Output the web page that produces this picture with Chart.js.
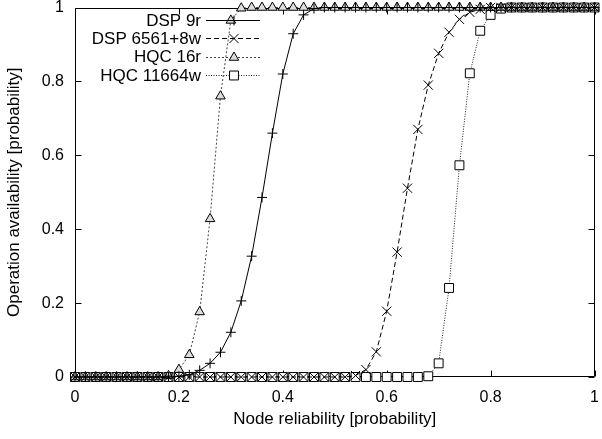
<!DOCTYPE html>
<html><head><meta charset="utf-8">
<script src="https://cdn.jsdelivr.net/npm/chart.js@4/dist/chart.umd.min.js"></script>
<style>html,body{margin:0;padding:0;background:#fff}canvas{display:block}</style>
</head><body>
<canvas id="c" width="602" height="439"></canvas>
<script>
// ---- data ----
const nodeReliability = [0,0.02,0.04,0.06,0.08,0.10,0.12,0.14,0.16,0.18,
  0.20,0.22,0.24,0.26,0.28,0.30,0.32,0.34,0.36,0.38,
  0.40,0.42,0.44,0.46,0.48,0.50,0.52,0.54,0.56,0.58,
  0.60,0.62,0.64,0.66,0.68,0.70,0.72,0.74,0.76,0.78,
  0.80,0.82,0.84,0.86,0.88,0.90,0.92,0.94,0.96,0.98,1.00];
const seriesNames = ['DSP 9r','DSP 6561+8w','HQC 16r','HQC 11664w'];
const dsp9r = [0,0,0,0,0,0,0,0,0,0,
  0.002,0.006,0.018,0.037,0.067,0.121,0.206,0.327,0.486,0.66,
  0.82,0.929,0.98,0.997,1,1,1,1,1,1,
  1,1,1,1,1,1,1,1,1,1,
  1,1,1,1,1,1,1,1,1,1,1];
const dsp6561w = [0,0,0,0,0,0,0,0,0,0,
  0,0,0,0,0,0,0,0,0,0,
  0,0,0,0,0,0,0,0.004,0.02,0.068,
  0.178,0.338,0.511,0.67,0.79,0.876,0.933,0.968,0.987,0.995,
  1,1,1,1,1,1,1,1,1,1,1];
const hqc16r = [0,0,0,0,0,0,0,0,0,0.003,
  0.02,0.06,0.176,0.428,0.76,0.965,0.998,1,1,1,
  1,1,1,1,1,1,1,1,1,1,
  1,1,1,1,1,1,1,1,1,1,
  1,1,1,1,1,1,1,1,1,1,1];
const hqc11664w = [0,0,0,0,0,0,0,0,0,0,
  0,0,0,0,0,0,0,0,0,0,
  0,0,0,0,0,0,0,0,0,0,
  0,0,0,0,0.002,0.037,0.241,0.573,0.822,0.937,
  0.98,0.997,1,1,1,1,1,1,1,1,1];
const xTickValues = [0,0.2,0.4,0.6,0.8,1];
const yTickValues = [0,0.2,0.4,0.6,0.8,1];
const xTitle = 'Node reliability [probability]';
const yTitle = 'Operation availability [probability]';

// ---- styles ----
const FONT = "'Liberation Sans', Arial, Helvetica, sans-serif";
const styles = [
  {pointStyle:'cross',    radius:5,   dash:[],    color:'#000', fill:'#000'},
  {pointStyle:'crossRot', radius:6.5, dash:[5,3], color:'#000', fill:'#000'},
  {pointStyle:'triangle', radius:5.5, dash:[2,2], color:'#000', fill:'#ddd', line:'#444'},
  {pointStyle:'rect',     radius:6.3, dash:[1,1.5], color:'#000', fill:'#fff', line:'#222'}
];
const seriesData = [dsp9r, dsp6561w, hqc16r, hqc11664w];

const datasets = seriesData.map((vals, i) => ({
  label: seriesNames[i],
  data: nodeReliability.map((x, j) => ({x: x, y: vals[j]})),
  borderColor: styles[i].line || styles[i].color,
  borderWidth: 1,
  borderDash: styles[i].dash,
  pointStyle: styles[i].pointStyle,
  pointRadius: styles[i].radius,
  pointHoverRadius: styles[i].radius,
  pointBorderWidth: 1,
  pointBorderColor: styles[i].color,
  pointBackgroundColor: styles[i].fill,
  tension: 0,
  clip: false,
  fill: false
}));

const framePlugin = {
  id: 'frame',
  beforeDatasetsDraw(chart) {
    const {ctx, chartArea: a, scales} = chart;
    ctx.save();
    ctx.strokeStyle = '#000';
    ctx.lineWidth = 1;
    ctx.setLineDash([]);
    ctx.beginPath();
    const L = Math.round(a.left) + 0.5, R = Math.round(a.right) - 0.5;
    const T = Math.round(a.top) + 0.5, B = Math.round(a.bottom) - 0.5;
    ctx.rect(L, T, R - L, B - T);
    const tl = 6;
    xTickValues.forEach(v => {
      const px = Math.round(scales.x.getPixelForValue(v)) + 0.5;
      ctx.moveTo(px, B); ctx.lineTo(px, B - tl);
      ctx.moveTo(px, T); ctx.lineTo(px, T + tl);
    });
    yTickValues.forEach(v => {
      const py = Math.round(scales.y.getPixelForValue(v)) + 0.5;
      ctx.moveTo(L, py); ctx.lineTo(L + tl, py);
      ctx.moveTo(R, py); ctx.lineTo(R - tl, py);
    });
    ctx.stroke();
    ctx.restore();
  },
  afterDatasetsDraw(chart) {
    const {ctx} = chart;
    ctx.save();
    ctx.font = '17px ' + FONT;
    ctx.textAlign = 'right';
    ctx.textBaseline = 'middle';
    ctx.fillStyle = '#000';
    seriesNames.forEach((name, i) => {
      const y = 20 + i * 18.3;
      ctx.fillText(name, 201, y + 1);
      ctx.strokeStyle = styles[i].line || styles[i].color;
      ctx.lineWidth = 1;
      ctx.setLineDash(styles[i].dash);
      ctx.beginPath();
      ctx.moveTo(206, Math.round(y) + 0.5);
      ctx.lineTo(260, Math.round(y) + 0.5);
      ctx.stroke();
      ctx.setLineDash([]);
      ctx.strokeStyle = styles[i].color;
      ctx.fillStyle = styles[i].fill;
      Chart.helpers.drawPoint(ctx, {pointStyle: styles[i].pointStyle, radius: styles[i].radius, rotation: 0, borderWidth: 1}, 234, Math.round(y) + 0.5);
      ctx.fillStyle = '#000';
    });
    ctx.restore();
  }
};

const fmt = v => String(Math.round(v * 10) / 10);

new Chart(document.getElementById('c'), {
  type: 'line',
  data: {datasets},
  options: {
    responsive: false,
    animation: false,
    devicePixelRatio: 1,
    layout: {padding: {top: 6, right: 3, left: 0, bottom: 0}},
    plugins: {legend: {display: false}, tooltip: {enabled: false}},
    scales: {
      x: {
        type: 'linear', min: 0, max: 1,
        afterBuildTicks: s => { s.ticks = xTickValues.map(v => ({value: v})); },
        afterFit: s => { s.height = 62; s.paddingLeft = 0; s.paddingRight = 0; },
        grid: {display: false, drawTicks: false, tickLength: 0},
        border: {display: false},
        ticks: {color: '#000', font: {family: FONT, size: 16}, padding: 11, maxRotation: 0, autoSkip: false, callback: fmt},
        title: {display: true, text: xTitle, color: '#000', font: {family: FONT, size: 17}, padding: {top: 0, bottom: 9}}
      },
      y: {
        type: 'linear', min: 0, max: 1,
        afterBuildTicks: s => { s.ticks = yTickValues.map(v => ({value: v})); },
        afterFit: s => { s.width = 75; s.paddingTop = 0; s.paddingBottom = 0; },
        grid: {display: false, drawTicks: false, tickLength: 0},
        border: {display: false},
        ticks: {color: '#000', font: {family: FONT, size: 16}, padding: 11, autoSkip: false, callback: fmt},
        title: {display: true, text: yTitle, color: '#000', font: {family: FONT, size: 17}, padding: {top: 4, bottom: 0}}
      }
    }
  },
  plugins: [framePlugin]
});
</script>
</body></html>
